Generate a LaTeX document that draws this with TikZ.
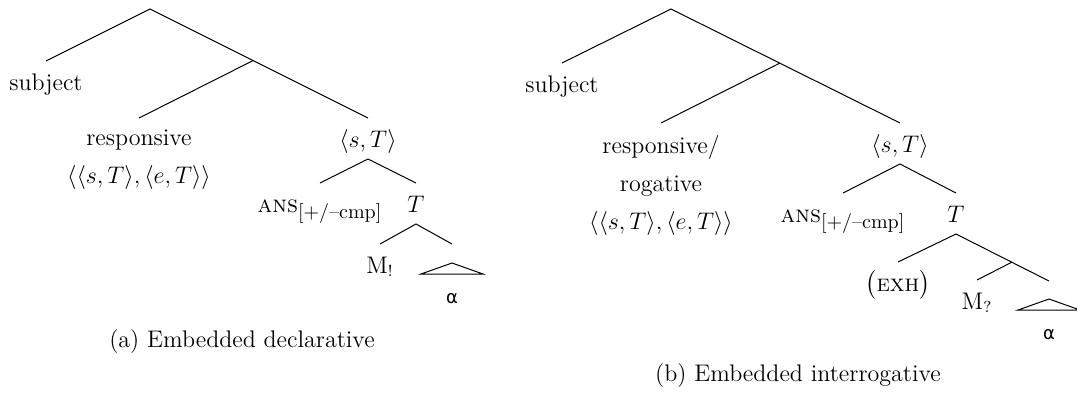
\documentclass[tikz,border=0pt]{standalone}
\usepackage{amsmath}
\usepackage{fontspec}
\newfontfamily\alphafont{DejaVu Sans}
\usetikzlibrary{calc}

\newcommand{\ansfeat}{\textsc{ans}$_{\mbox{\fontsize{10}{12}\selectfont[+/--cmp]}}$}

\begin{document}
\begin{tikzpicture}[
    x=0.5pt, y=-0.5pt,
    lab/.style={inner sep=0pt, outer sep=6pt, text height=8.5pt, text depth=0pt, font=\fontsize{12}{19}\selectfont},
    multilab/.style={inner sep=0pt, outer sep=6pt, align=center, font=\fontsize{12}{19}\selectfont},
    greek/.style={lab, font=\alphafont\fontsize{9}{10}\selectfont},
    capt/.style={inner sep=0pt, anchor=base, font=\fontsize{12}{14}\selectfont},
    branch/.style={line width=0.5pt},
    roof/.style={line width=0.5pt}
  ]
  \useasboundingbox (0,0) rectangle (1077,392);

  % (a) embedded declarative
  \coordinate (rootA) at (150,9);
  \node[lab, anchor=north] (subjA) at (46,61) {subject};
  \node[multilab, anchor=north] (respA) at (139,118)
    {responsive\\$\langle\langle s,T\rangle,\langle e,T\rangle\rangle$};
  \node[lab, anchor=north] (stA) at (368,118) {$\langle s,T\rangle$};
  \coordinate (vpA) at ($(rootA)!0.473!(stA.north)$);
  \node[lab, anchor=north] (ansA) at (320,183) {\ansfeat};
  \node[lab, anchor=north] (tA) at (416,183) {$T$};
  \node[lab, anchor=north] (mA) at (380,244) {M$_!$};
  \coordinate (roofA) at (452,244);
  \node[greek, anchor=north] (alphaA) at (452,274) {α};
  \node[capt] (captA) at (242,347) {(a) Embedded declarative};

  \draw[branch] (subjA.north) -- (rootA) -- (stA.north);
  \draw[branch] (vpA) -- (respA.north);
  \draw[branch] (ansA.north) -- (stA.south) -- (tA.north);
  \draw[branch] (mA.north) -- (tA.south) -- (roofA);
  \draw[roof] ($(alphaA.north)+(-31,0)$) -- ($(alphaA.north)+(0,-11)$) -- ($(alphaA.north)+(31,0)$) -- cycle;

  % (b) embedded interrogative
  \coordinate (rootB) at (671,9);
  \node[lab, anchor=north] (subjB) at (562,63) {subject};
  \node[multilab, anchor=north] (respB) at (661,123)
    {responsive/\\rogative\\$\langle\langle s,T\rangle,\langle e,T\rangle\rangle$};
  \node[lab, anchor=north] (stB) at (900,123) {$\langle s,T\rangle$};
  \coordinate (vpB) at ($(rootB)!0.475!(stB.north)$);
  \node[lab, anchor=north] (ansB) at (843,193) {\ansfeat};
  \node[lab, anchor=north] (tB) at (956,193) {$T$};
  \node[lab, anchor=north] (exhB) at (898,262) {$\bigl($\textsc{exh}$\bigr)$};
  \coordinate (roofB) at (1049,281);
  \coordinate (tbarB) at ($(tB.south)!0.6!(roofB)$);
  \node[lab, anchor=north] (mB) at (977,280) {M$_?$};
  \node[greek, anchor=north] (alphaB) at (1049,310) {α};
  \node[capt] (captB) at (798,381) {(b) Embedded interrogative};

  \draw[branch] (subjB.north) -- (rootB) -- (stB.north);
  \draw[branch] (vpB) -- (respB.north);
  \draw[branch] (ansB.north) -- (stB.south) -- (tB.north);
  \draw[branch] (exhB.north) -- (tB.south) -- (roofB);
  \draw[branch] (tbarB) -- (mB.north);
  \draw[roof] ($(alphaB.north)+(-31,0)$) -- ($(alphaB.north)+(0,-11)$) -- ($(alphaB.north)+(31,0)$) -- cycle;
\end{tikzpicture}
\end{document}
